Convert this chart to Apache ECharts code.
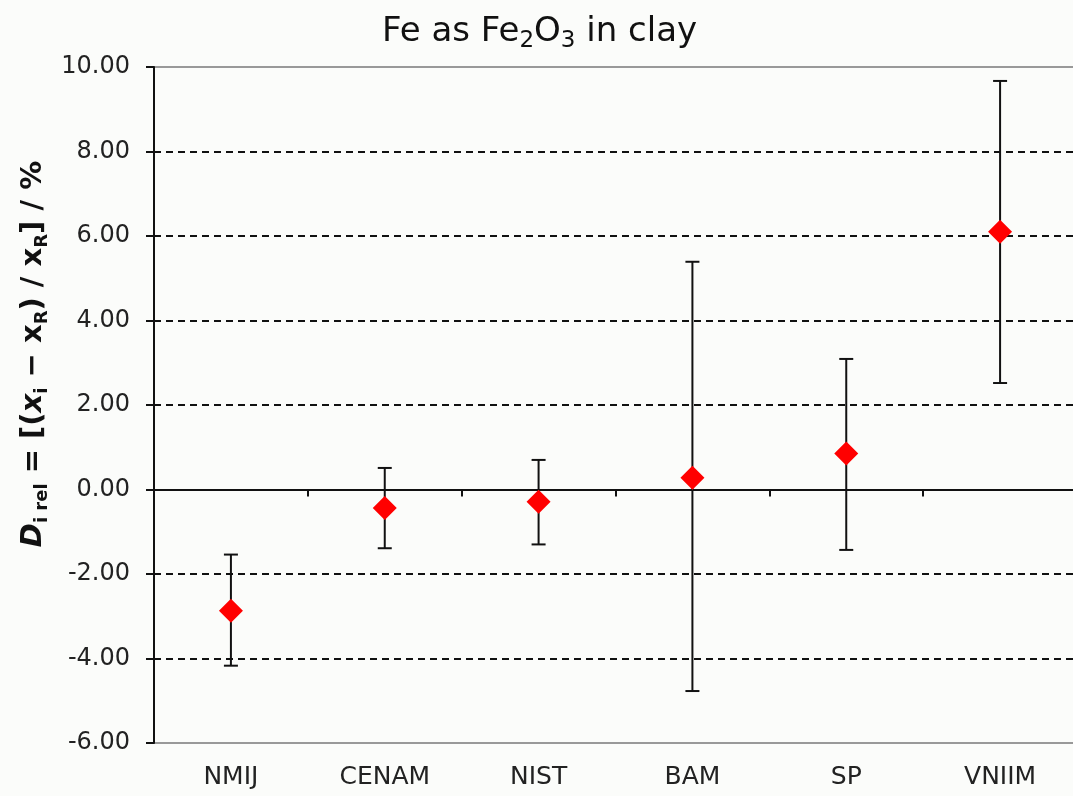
<!doctype html>
<html>
  <head>
    <meta charset="utf-8">
    <title>Fe as Fe2O3 in clay</title>
    <script src="https://cdn.jsdelivr.net/npm/echarts@6/dist/echarts.min.js"></script>
    <style>
      html, body { margin:0; padding:0; background:#fbfcfa; overflow:hidden; }
    </style>
  </head>
  <body>
    <div id="main" style="width:1077px;height:796px;"></div>
  </body>
  <script>
   // data
   var labs = ['NMIJ','CENAM','NIST','BAM','SP','VNIIM'];
   var dRel = [-2.87, -0.44, -0.29, 0.28, 0.85, 6.10];
   var upper = [-1.54, 0.51, 0.70, 5.39, 3.09, 9.67];
   var lower = [-4.17, -1.39, -1.30, -4.77, -1.43, 2.52];

   var chart = echarts.init(document.getElementById('main'));
   var font = 'DejaVu Sans';

   var errData = labs.map(function (l, i) { return [i, upper[i], lower[i]]; });

   var option = {
     backgroundColor:'#fbfcfa',
     animation:false,
     title:{
       text:'{a|Fe as Fe}{s|2}{a|O}{s|3}{a| in clay}',
       left:377,
       top:6,
       textStyle:{
         fontWeight:'normal',
         rich:{
           a:{ fontFamily:font, fontSize:34, fontWeight:'normal', color:'#111', lineHeight:42 },
           s:{ fontFamily:font, fontSize:23, fontWeight:'normal', color:'#111', lineHeight:42, verticalAlign:'bottom' }
         }
       }
     },
     graphic:[{
       type:'text',
       x:33,
       y:354,
       rotation:Math.PI / 2,
       style:{
         text:'{it|D}{sub|i rel}{m| = [(}{it|x}{sub|i}{m| − x}{sub|R}{m|) / x}{sub|R}{m|] / %}',
         align:'center',
         verticalAlign:'middle',
         rich:{
           m:{ fontFamily:font, fontSize:29, fontWeight:'bold', fill:'#111', lineHeight:36 },
           it:{ fontFamily:font, fontSize:29, fontWeight:'bold', fontStyle:'italic', fill:'#111', lineHeight:36 },
           sub:{ fontFamily:font, fontSize:18, fontWeight:'bold', fill:'#111', verticalAlign:'bottom', lineHeight:36 }
         }
       }
     }],
     grid:{
       left:154, right:0, top:67, bottom:53,
       show:true, borderColor:'#999', borderWidth:2, backgroundColor:'transparent'
     },
     xAxis:[
       {
         type:'category',
         data:labs,
         position:'bottom',
         axisLine:{ show:false, onZero:false },
         axisTick:{ show:false },
         axisLabel:{ fontFamily:font, fontSize:25, color:'#222', margin:22 }
       },
       {
         type:'category',
         data:labs,
         position:'top',
         axisLine:{ show:true, onZero:true, lineStyle:{ color:'#111', width:2 } },
         axisTick:{ show:true, inside:true, length:7, lineStyle:{ color:'#111', width:2 } },
         axisLabel:{ show:false }
       }
     ],
     yAxis:{
       type:'value',
       min:-6, max:10, interval:2,
       axisLine:{ show:true, lineStyle:{ color:'#111', width:2 } },
       axisTick:{ show:true, length:8, lineStyle:{ color:'#111', width:2 } },
       axisLabel:{
         fontFamily:font, fontSize:24, color:'#222', margin:24,
         formatter:function (v) { return v.toFixed(2); }
       },
       splitLine:{ show:true, showMinLine:false, showMaxLine:false, lineStyle:{ color:'#111', width:2, type:[7,5] } }
     },
     series:[
       {
         type:'custom',
         name:'uncertainty',
         xAxisIndex:0,
         data:errData,
         encode:{ x:0, y:[1,2] },
         z:3,
         renderItem:function (params, api) {
           var hi = api.coord([api.value(0), api.value(1)]);
           var lo = api.coord([api.value(0), api.value(2)]);
           var w = 7;
           var st = { stroke:'#111', lineWidth:2 };
           return {
             type:'group',
             children:[
               { type:'line', shape:{ x1:hi[0], y1:hi[1], x2:lo[0], y2:lo[1] }, style:st },
               { type:'line', shape:{ x1:hi[0]-w, y1:hi[1], x2:hi[0]+w, y2:hi[1] }, style:st },
               { type:'line', shape:{ x1:lo[0]-w, y1:lo[1], x2:lo[0]+w, y2:lo[1] }, style:st }
             ]
           };
         }
       },
       {
         type:'scatter',
         name:'Di rel',
         xAxisIndex:0,
         data:dRel,
         symbol:'diamond',
         symbolSize:[24,24],
         itemStyle:{ color:'#ff0000', opacity:1 },
         z:5
       }
     ]
   };
   chart.setOption(option);
  </script>
</html>
